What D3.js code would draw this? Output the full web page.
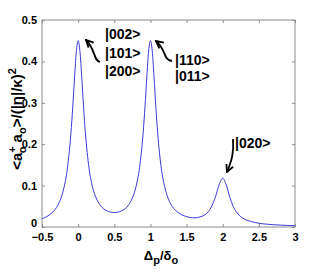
<!DOCTYPE html>
<html>
<head>
<meta charset="UTF-8">
<script src="https://d3js.org/d3.v7.min.js"></script>
<style>
  body { margin: 0; background: #fff; }
  svg text { font-family: "Liberation Sans Narrow", "Liberation Sans", Arial, sans-serif; font-weight: bold; }
</style>
</head>
<body>
<svg width="327" height="273"></svg>
<script>
  // detuning values (Δp/δo)
  const detuning = [-0.5, -0.4, -0.3, -0.25, -0.2, -0.15, -0.1, -0.075, -0.05, -0.025,
    0, 0.025, 0.05, 0.075, 0.1, 0.15, 0.2, 0.25, 0.3, 0.4,
    0.5, 0.6, 0.7, 0.75, 0.8, 0.85, 0.9, 0.925, 0.95, 0.975,
    1, 1.025, 1.05, 1.075, 1.1, 1.15, 1.2, 1.25, 1.3, 1.4,
    1.5, 1.6, 1.7, 1.8, 1.85, 1.9, 1.95, 2, 2.05, 2.1,
    2.15, 2.2, 2.3, 2.4, 2.5, 2.6, 2.7, 2.8, 2.9, 3];
  const population = [0.020, 0.029, 0.047, 0.064, 0.092, 0.140, 0.226, 0.289, 0.360, 0.423,
    0.450, 0.424, 0.361, 0.290, 0.228, 0.143, 0.096, 0.070, 0.054, 0.039,
    0.035, 0.039, 0.054, 0.070, 0.097, 0.144, 0.229, 0.291, 0.362, 0.425,
    0.450, 0.425, 0.362, 0.290, 0.228, 0.142, 0.095, 0.067, 0.050, 0.033,
    0.025, 0.022, 0.025, 0.037, 0.051, 0.073, 0.102, 0.118, 0.101, 0.071,
    0.048, 0.034, 0.019, 0.013, 0.009, 0.007, 0.0055, 0.0046, 0.0038, 0.0032];

  const xTicks = [-0.5, 0, 0.5, 1, 1.5, 2, 2.5, 3];
  const yTicks = [0, 0.1, 0.2, 0.3, 0.4, 0.5];

  const annotations = [
    { lines: ["|002>", "|101>", "|200>"] },
    { lines: ["|110>", "|011>"] },
    { lines: ["|020>"] }
  ];

  const svg = d3.select("svg");
  const m = { left: 42, right: 32, top: 20, bottom: 46 };
  const W = 327, H = 273;

  const x = d3.scaleLinear().domain([-0.5, 3]).range([m.left, W - m.right]);
  const y = d3.scaleLinear().domain([0, 0.5]).range([H - m.bottom, m.top]);

  const axisColor = "#8c8c8c";

  // box
  svg.append("rect")
    .attr("x", x(-0.5)).attr("y", y(0.5))
    .attr("width", x(3) - x(-0.5)).attr("height", y(0) - y(0.5))
    .attr("fill", "none").attr("stroke", axisColor).attr("stroke-width", 1);

  function styleAxis(g) {
    g.select(".domain").remove();
    g.selectAll(".tick line").attr("stroke", axisColor);
    g.selectAll(".tick text").attr("fill", "#000").attr("font-size", 11);
  }

  svg.append("g").attr("transform", `translate(0,${y(0)})`)
    .call(d3.axisBottom(x).tickValues(xTicks).tickSize(-3).tickPadding(6).tickFormat(d3.format("")))
    .call(styleAxis);
  svg.append("g").attr("transform", `translate(0,${y(0.5)})`)
    .call(d3.axisTop(x).tickValues(xTicks).tickSize(-3).tickFormat(""))
    .call(styleAxis);
  svg.append("g").attr("transform", `translate(${x(-0.5)},0)`)
    .call(d3.axisLeft(y).tickValues(yTicks).tickSize(-3).tickPadding(5).tickFormat(d3.format("")))
    .call(styleAxis)
    .selectAll(".tick text").filter(d => d === 0).attr("dy", "-0.05em");
  svg.append("g").attr("transform", `translate(${x(3)},0)`)
    .call(d3.axisRight(y).tickValues(yTicks).tickSize(-3).tickFormat(""))
    .call(styleAxis);

  // curve
  const line = d3.line()
    .x((d, i) => x(detuning[i]))
    .y(d => y(d))
    .curve(d3.curveMonotoneX);
  svg.append("path")
    .datum(population)
    .attr("d", line)
    .attr("fill", "none")
    .attr("stroke", "#3a3ad8")
    .attr("stroke-width", 1);

  // axis labels
  const yl = svg.append("text")
    .attr("transform", `translate(22,${119}) rotate(-90)`)
    .attr("text-anchor", "middle")
    .attr("font-size", 15);
  yl.append("tspan").text("<a");
  yl.append("tspan").attr("dy", -6).attr("font-size", 11).text("+");
  yl.append("tspan").attr("dx", -7).attr("dy", 10).attr("font-size", 11).text("o");
  yl.append("tspan").attr("dy", -4).text(" a");
  yl.append("tspan").attr("dy", 4).attr("font-size", 11).text("o");
  yl.append("tspan").attr("dy", -4).text(">/(|η|/κ)");
  yl.append("tspan").attr("dy", -6).attr("font-size", 11).text("2");

  const xl = svg.append("text")
    .attr("x", 161).attr("y", 260)
    .attr("text-anchor", "middle")
    .attr("font-size", 13);
  xl.append("tspan").text("Δ");
  xl.append("tspan").attr("dy", 4).attr("font-size", 11).text("p");
  xl.append("tspan").attr("dy", -4).text("/δ");
  xl.append("tspan").attr("dy", 4).attr("font-size", 11).text("o");

  // annotations
  const annoPos = [[105, 39, 18.5], [175, 65, 15.5], [235, 148, 0]];
  annotations.forEach((a, k) => {
    const [ax, ay, step] = annoPos[k];
    a.lines.forEach((t, i) => {
      svg.append("text")
        .attr("x", ax).attr("y", ay + i * step)
        .attr("font-size", 14)
        .text(t);
    });
  });

  svg.append("defs").append("marker")
    .attr("id", "ah").attr("viewBox", "0 0 10 10")
    .attr("refX", 9).attr("refY", 5)
    .attr("markerWidth", 5).attr("markerHeight", 5)
    .attr("orient", "auto")
    .append("path").attr("d", "M1,1 L9,5 L1,9")
    .attr("fill", "none").attr("stroke", "#000").attr("stroke-width", 2);

  const arrows = [
    "M100,62 C93,60 96,50 86,40",
    "M172,61 C163,60 166,49 156,41",
    "M233,139 C234,152 232,160 227,172"
  ];
  arrows.forEach(d => {
    svg.append("path").attr("d", d)
      .attr("fill", "none").attr("stroke", "#000").attr("stroke-width", 1.8)
      .attr("marker-end", "url(#ah)");
  });
</script>
</body>
</html>
